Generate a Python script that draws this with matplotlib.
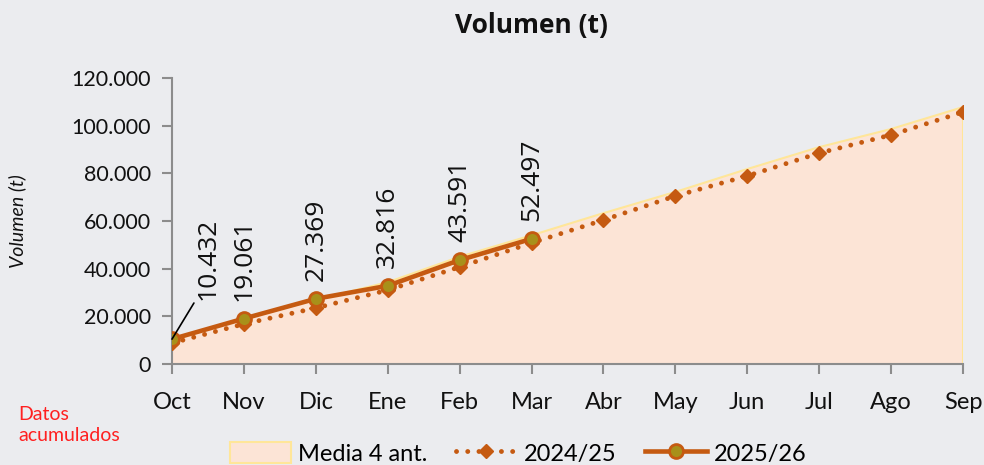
import matplotlib
matplotlib.use("Agg")
import matplotlib.pyplot as plt
from matplotlib.lines import Line2D
from matplotlib.patches import Patch
from matplotlib.ticker import FuncFormatter, MultipleLocator

months = ["Oct", "Nov", "Dic", "Ene", "Feb", "Mar", "Abr", "May", "Jun", "Jul", "Ago", "Sep"]
media4 = [10000, 18800, 27000, 34300, 45000, 54000, 63300, 72200, 81800, 91000, 98600, 107800]
s2425 = [8800, 16800, 23500, 31000, 40700, 50800, 60400, 70500, 78900, 88500, 96100, 105700]
s2526 = [10432, 19061, 27369, 32816, 43591, 52497]
labels2526 = ["10.432", "19.061", "27.369", "32.816", "43.591", "52.497"]

BG = "#EBECEF"
ORANGE = "#C55A11"
OLIVE = "#A8901A"
FILL = "#FCE4D6"
EDGE = "#FFE699"
DOTS = (0, (0.01, 2.3))

fig = plt.figure(figsize=(9.84, 4.65), dpi=100, facecolor=BG)
ax = fig.add_axes([172/984, 1-364/465, (963-172)/984, (364-78)/465])
ax.set_facecolor(BG)

x = list(range(len(months)))
ax.fill_between(x, 0, media4, facecolor=FILL, edgecolor="none", zorder=1)
ax.plot(x, media4, color=EDGE, lw=1.5, zorder=1.5)
ax.plot([x[-1], x[-1]], [0, media4[-1]], color=EDGE, lw=1.5, zorder=1.5)

ax.plot(x, s2425, color=ORANGE, lw=3.5, linestyle=DOTS, dash_capstyle="round",
        marker="D", markersize=7, markerfacecolor=ORANGE, markeredgecolor=ORANGE, zorder=3)
x26 = x[:len(s2526)]
ax.plot(x26, s2526, color=ORANGE, lw=3.3, marker="o", markersize=10,
        markerfacecolor=OLIVE, markeredgecolor=ORANGE, markeredgewidth=2, zorder=4)

for i, (xi, v, lab) in enumerate(zip(x26, s2526, labels2526)):
    if i == 0:
        ax.annotate(lab, xy=(xi, v), xytext=(17, 28), textcoords="offset points",
                    rotation=90, ha="left", va="bottom", fontsize=19, family="Open Sans",
                    color="#111111",
                    arrowprops=dict(arrowstyle="-", color="black", lw=1.2,
                                    shrinkA=0, shrinkB=0,
                                    relpos=(0.0, 0.0)), zorder=5)
    else:
        ax.annotate(lab, xy=(xi, v), xytext=(0, 13), textcoords="offset points",
                    rotation=90, ha="center", va="bottom", fontsize=19, family="Open Sans",
                    color="#111111", zorder=5)

ax.set_xlim(0, 11)
ax.set_ylim(0, 120000)
ax.yaxis.set_major_locator(MultipleLocator(20000))
ax.yaxis.set_major_formatter(FuncFormatter(lambda v, p: f"{int(v):,}".replace(",", ".")))
ax.set_xticks(x)
ax.set_xticklabels(months)
for sp in ["top", "right"]:
    ax.spines[sp].set_visible(False)
for sp in ["left", "bottom"]:
    ax.spines[sp].set_color("#8C8C8C")
    ax.spines[sp].set_linewidth(1.5)
ax.tick_params(axis="both", direction="out", length=7, width=1.5, color="#8C8C8C")
ax.tick_params(axis="y", labelsize=15.5, pad=8)
ax.tick_params(axis="x", labelsize=17, pad=13)
for t in ax.get_xticklabels() + ax.get_yticklabels():
    t.set_family("Lato")
    t.set_color("#111111")

ax.set_ylabel("Volumen (t)", fontsize=14, style="italic", family="Lato", labelpad=33, color="#111111")

fig.text(531/984, 1-25/465, "Volumen (t)", ha="center", va="center", fontsize=19,
         fontweight="bold", family="Open Sans", color="#111111")
fig.text(18/984, 1-425/465, "Datos\nacumulados", ha="left", va="center", fontsize=14,
         family="Lato", color="#FF2020", linespacing=1.3)

handles = [
    Patch(facecolor=FILL, edgecolor=EDGE, linewidth=1.5),
    Line2D([], [], color=ORANGE, lw=3.5, linestyle=DOTS, dash_capstyle="round",
           marker="D", markersize=7, markerfacecolor=ORANGE, markeredgecolor=ORANGE),
    Line2D([], [], color=ORANGE, lw=3.3, marker="o", markersize=10,
           markerfacecolor=OLIVE, markeredgecolor=ORANGE, markeredgewidth=2),
]
leg = fig.legend(handles, ["Media 4 ant.", "2024/25", "2025/26"], loc="lower center",
                 bbox_to_anchor=(518/984, -0.045), ncol=3, frameon=False,
                 prop={"family": "Lato", "size": 17}, handlelength=2.6,
                 handletextpad=0.3, columnspacing=1.2, handleheight=1.0)

fig.savefig("out.png", dpi=100, facecolor=BG)
